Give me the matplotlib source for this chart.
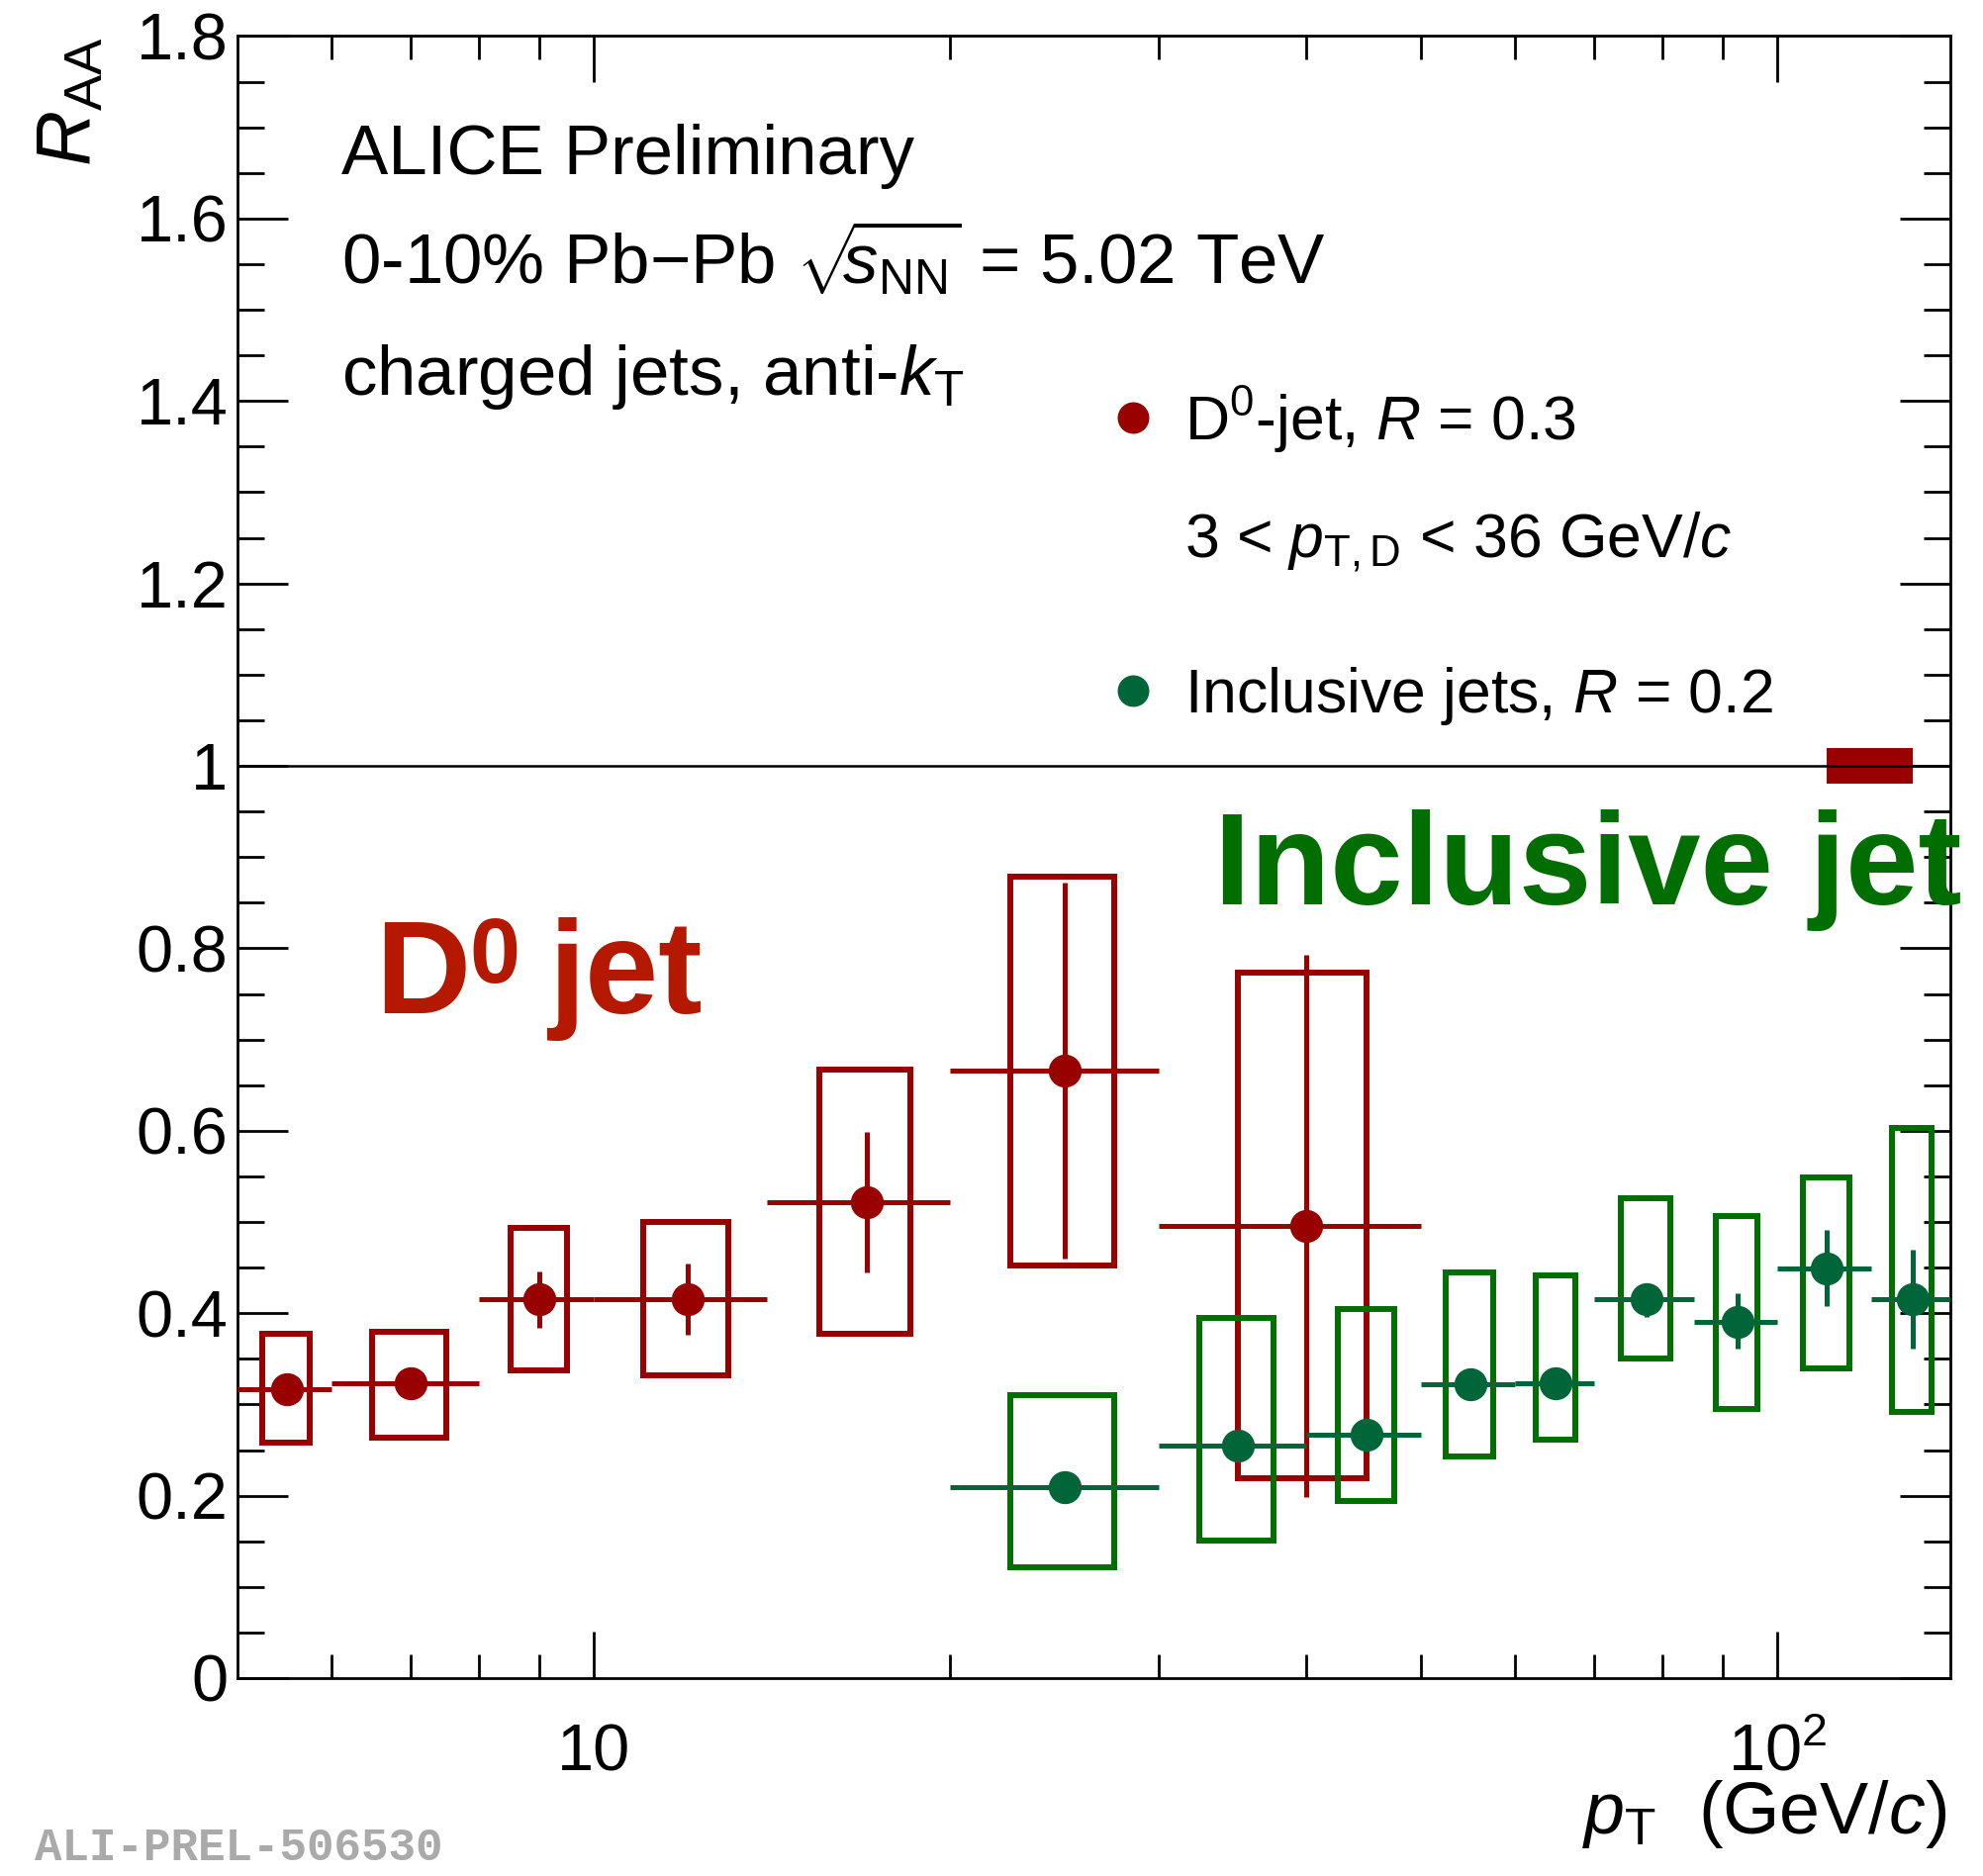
import matplotlib
matplotlib.use("Agg")
import matplotlib.pyplot as plt
from matplotlib.patches import Rectangle
from matplotlib.ticker import FixedLocator, NullFormatter, FuncFormatter
import numpy as np

plt.rcParams['font.family'] = ['Liberation Sans', 'DejaVu Sans']
plt.rcParams['mathtext.fontset'] = 'custom'
plt.rcParams['mathtext.rm'] = 'Liberation Sans'
plt.rcParams['mathtext.it'] = 'Liberation Sans:italic'
plt.rcParams['mathtext.bf'] = 'Liberation Sans:bold'

# ---------------- data ----------------
d0_edges = [5, 6, 8, 10, 14, 20, 30, 50]
d0_x = [5.5, 7, 9, 12, 17, 25, 40]
d0_y = [0.317, 0.323, 0.415, 0.415, 0.522, 0.666, 0.496]
d0_stat_top = [0.327, 0.333, 0.446, 0.455, 0.599, 0.872, 0.793]
d0_stat_bot = [0.307, 0.313, 0.384, 0.376, 0.445, 0.460, 0.199]
d0_sys_top = [0.377, 0.380, 0.493, 0.500, 0.667, 0.879, 0.773]
d0_sys_bot = [0.258, 0.264, 0.337, 0.332, 0.377, 0.452, 0.219]

incl_edges = [20, 30, 40, 50, 60, 70, 85, 100, 120, 140]
incl_x = [25, 35, 45, 55, 65, 77.5, 92.5, 110, 130]
incl_y = [0.209, 0.255, 0.267, 0.322, 0.323, 0.415, 0.391, 0.449, 0.415]
incl_stat_top = [0.214, 0.261, 0.275, 0.330, 0.332, 0.433, 0.422, 0.491, 0.470]
incl_stat_bot = [0.204, 0.249, 0.259, 0.314, 0.314, 0.396, 0.361, 0.408, 0.361]
incl_sys_top = [0.310, 0.395, 0.405, 0.445, 0.441, 0.526, 0.507, 0.549, 0.603]
incl_sys_bot = [0.121, 0.151, 0.194, 0.243, 0.261, 0.350, 0.295, 0.339, 0.292]

norm_unc = 0.02
norm_box_x = [110, 130]

y_ticks = [0, 0.2, 0.4, 0.6, 0.8, 1.0, 1.2, 1.4, 1.6, 1.8]
x_ticks = [10, 100]
x_ticklabels = ['10', r'$10^{2}$']

# ---------------- style ----------------
RED = '#990000'
RED_TXT = '#B41900'
GREEN_MK = '#00663A'
GREEN_BOX = '#006E00'
GREEN_TXT = '#006E00'

W, H = 2004, 1896
fig = plt.figure(figsize=(W / 100, H / 100), dpi=100)
L, R_, T, B = 240, 1971, 36.5, 1696
ax = fig.add_axes([L / W, 1 - B / H, (R_ - L) / W, (B - T) / H])
ax.set_xscale('log')
ax.set_xlim(5, 140)
ax.set_ylim(0, 1.8)


def draw_series(edges, x, y, st_top, st_bot, sy_top, sy_bot, col_mk, col_box):
    edges = np.asarray(edges, float)
    x = np.asarray(x, float)
    y = np.asarray(y, float)
    lo, hi = edges[:-1], edges[1:]
    for i in range(len(x)):
        hw = 0.25 * (hi[i] - lo[i])
        ax.add_patch(Rectangle((x[i] - hw, sy_bot[i]), 2 * hw, sy_top[i] - sy_bot[i],
                               fill=False, edgecolor=col_box, lw=4.3, zorder=3))
    ax.errorbar(x, y, xerr=[x - lo, hi - x],
                yerr=[y - np.asarray(st_bot), np.asarray(st_top) - y],
                fmt='o', ms=23, color=col_mk, mfc=col_mk, mec=col_mk,
                elinewidth=3.6, capsize=0, zorder=4)


draw_series(d0_edges, d0_x, d0_y, d0_stat_top, d0_stat_bot, d0_sys_top, d0_sys_bot, RED, RED)
draw_series(incl_edges, incl_x, incl_y, incl_stat_top, incl_stat_bot,
            incl_sys_top, incl_sys_bot, GREEN_MK, GREEN_BOX)

# normalisation uncertainty box
ax.add_patch(Rectangle((norm_box_x[0], 1 - norm_unc), norm_box_x[1] - norm_box_x[0],
                       2 * norm_unc, facecolor=RED, edgecolor='none', zorder=2))
ax.axhline(1.0, color='black', lw=1.8, zorder=5)

# axes styling
for s in ax.spines.values():
    s.set_linewidth(2.0)
ax.set_xticks(x_ticks)
ax.set_xticklabels(x_ticklabels)
ax.xaxis.set_minor_locator(FixedLocator([6, 7, 8, 9, 20, 30, 40, 50, 60, 70, 80, 90]))
ax.xaxis.set_minor_formatter(NullFormatter())
ax.set_yticks(y_ticks)
ax.yaxis.set_major_formatter(FuncFormatter(lambda v, p: f"{v:g}"))
ax.yaxis.set_minor_locator(FixedLocator(np.arange(0, 1.8001, 0.05)))
ax.tick_params(which='both', direction='in', top=True, right=True, width=2.0, labelsize=48)
ax.tick_params(axis='y', which='major', length=37, pad=7)
ax.tick_params(axis='y', which='minor', length=19.5)
ax.tick_params(axis='x', which='major', length=34, pad=67)
ax.tick_params(axis='x', which='minor', length=17)
for lab in ax.get_xticklabels():
    lab.set_verticalalignment('baseline')

# axis titles
fig.text(1967 / W, 1 - 1853 / H, r'$p_{\mathrm{T}}$  (GeV/$c$)', fontsize=53,
         ha='right', va='baseline')
fig.text(35 / W, 1 - 37 / H, r'$R_{\mathrm{AA}}$', fontsize=56, rotation=90,
         ha='left', va='top')

# header text
fig.text(345 / W, 1 - 176 / H, 'ALICE Preliminary', fontsize=51, va='baseline')
fig.text(345 / W, 1 - 287 / H,
         r'0-10% Pb$-$Pb $\sqrt{\!\!s_{\mathrm{NN}}}$ = 5.02 TeV',
         fontsize=51, va='baseline')
fig.text(345 / W, 1 - 399 / H, r'charged jets, anti-$k_{\mathrm{T}}$', fontsize=51,
         va='baseline')

# legend
fig.lines.append(plt.Line2D([1145 / W], [1 - 422 / H], marker='o', ms=22, color=RED,
                            transform=fig.transFigure, linestyle='none'))
fig.lines.append(plt.Line2D([1145 / W], [1 - 698 / H], marker='o', ms=22, color=GREEN_MK,
                            transform=fig.transFigure, linestyle='none'))
fig.text(1197 / W, 1 - 445 / H, r'D$^{0}$-jet, $R$ = 0.3', fontsize=45, va='baseline')
fig.text(1197 / W, 1 - 564 / H, r'3 < $p_{\mathrm{T,D}}$ < 36 GeV/$c$', fontsize=45,
         va='baseline')
fig.text(1197 / W, 1 - 720 / H, r'Inclusive jets, $R$ = 0.2', fontsize=45, va='baseline')

# big labels
fig.text(379 / W, 1 - 1024 / H, 'D', fontsize=96, fontweight='bold',
         color=RED_TXT, va='baseline')
fig.text(474 / W, 1 - 993 / H, '0', fontsize=66, fontweight='bold',
         color=RED_TXT, va='baseline')
fig.text(554 / W, 1 - 1024 / H, 'jet', fontsize=96, fontweight='bold',
         color=RED_TXT, va='baseline')
fig.text(1227 / W, 1 - 914 / H, 'Inclusive jet', fontsize=95, fontweight='bold',
         color=GREEN_TXT, va='baseline')

fig.text(35 / W, 16 / H, 'ALI-PREL-506530', fontsize=33, fontweight='bold',
         family=['Liberation Mono', 'DejaVu Sans Mono'], color='#AAAAAA', va='baseline')

fig.savefig('out.png', dpi=100)
